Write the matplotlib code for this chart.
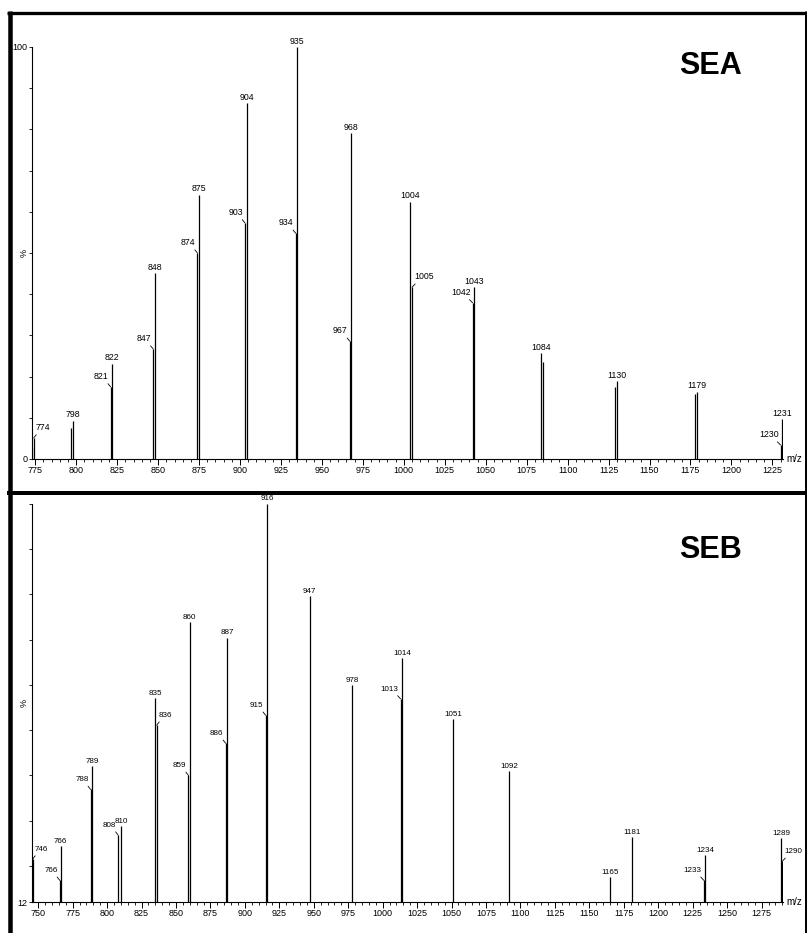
import matplotlib
matplotlib.use('Agg')
import matplotlib.pyplot as plt
from matplotlib.lines import Line2D
from matplotlib.ticker import MultipleLocator, FixedLocator

plt.rcParams['font.family'] = ['Liberation Sans', 'DejaVu Sans']

# SEA spectrum (m/z, relative intensity %)
sea_mz = [773, 774, 797, 798, 821, 822, 847, 848, 874, 875, 903, 904, 934, 935,
          967, 968, 1004, 1005, 1042, 1043, 1084, 1085, 1129, 1130, 1178, 1179,
          1230, 1231]
sea_int = [2.7, 5.1, 7.5, 9.3, 17.5, 23.1, 26.7, 45.1, 50.0, 64.1, 57.3, 86.4,
           54.8, 100, 28.6, 79.1, 62.4, 41.7, 37.9, 41.7, 25.7, 23.5, 17.5, 18.9,
           15.8, 16.3, 3.4, 9.7]
sea_labels = ['', '774', '', '798', '821', '822', '847', '848', '874', '875',
              '903', '904', '934', '935', '967', '968', '1004', '1005', '1042',
              '1043', '1084', '', '', '1130', '', '1179', '1230', '1231']
sea_sides = ['', 'r', '', 'c', 'l', 'c', 'l', 'c', 'l', 'c', 'l', 'c', 'l', 'c',
             'l', 'c', 'c', 'r', 'l', 'c', 'c', '', '', 'c', '', 'c', 'l', 'c']

# SEB spectrum
seb_mz = [745, 746, 765.6, 766.3, 788, 789, 808, 810, 835, 836, 859, 860, 886,
          887, 915, 916, 947, 978, 1013, 1014, 1051, 1092, 1165, 1181, 1233,
          1234, 1289, 1290]
seb_int = [15.7, 21.5, 16.8, 24.3, 36.9, 42.0, 26.8, 28.8, 57.1, 51.1, 40.0,
           73.9, 47.1, 70.4, 53.3, 100, 79.6, 59.9, 56.9, 65.9, 52.4, 40.9, 17.5,
           26.3, 16.8, 22.3, 26.1, 21.0]
seb_labels = ['', '746', '766', '766', '788', '789', '808', '810', '835', '836',
              '859', '860', '886', '887', '915', '916', '947', '978', '1013',
              '1014', '1051', '1092', '1165', '1181', '1233', '1234', '1289',
              '1290']
seb_sides = ['', 'r', 'l', 'c', 'l', 'c', 'l', 'c', 'c', 'r', 'l', 'c', 'l', 'c',
             'l', 'c', 'c', 'c', 'l', 'c', 'c', 'c', 'c', 'c', 'l', 'c', 'c', 'r']

W, H = 807, 933
fig = plt.figure(figsize=(W / 100, H / 100), dpi=100)


def label_peaks(ax, mz, inten, labels, sides, fs):
    for x, y, t, s in zip(mz, inten, labels, sides):
        if not t:
            continue
        if s == 'c':
            ax.annotate(t, (x, y), xytext=(0, 1.5), textcoords='offset pixels',
                        ha='center', va='bottom', fontsize=fs)
        else:
            sgn = -1 if s == 'l' else 1
            ax.annotate(t, (x, y), xytext=(sgn * 2, 6), textcoords='offset pixels',
                        ha='right' if s == 'l' else 'left', va='bottom', fontsize=fs,
                        arrowprops=dict(arrowstyle='-', lw=0.6, color='black',
                                        shrinkA=0, shrinkB=0,
                                        relpos=(0.8, 0) if s == 'l' else (0.2, 0)))


def style_axis(ax, xlim, ylim, ylabels):
    ax.set_xlim(*xlim)
    ax.set_ylim(*ylim)
    for s in ['top', 'right']:
        ax.spines[s].set_visible(False)
    for s in ['left', 'bottom']:
        ax.spines[s].set_linewidth(0.8)
    ax.xaxis.set_major_locator(MultipleLocator(25))
    ax.xaxis.set_minor_locator(MultipleLocator(5))
    ax.yaxis.set_major_locator(FixedLocator(ylabels))
    ax.yaxis.set_minor_locator(MultipleLocator(10))
    ax.tick_params(axis='x', which='major', length=4, width=0.7, pad=1, labelsize=6.5)
    ax.tick_params(axis='x', which='minor', length=2, width=0.6)
    ax.tick_params(axis='y', which='both', length=2.5, width=0.6, pad=1, labelsize=6.5)
    ax.text(1.004, 0, 'm/z', transform=ax.transAxes, ha='left', va='center', fontsize=7)
    ax.text(-0.0107, 0.5, '%', transform=ax.transAxes, ha='center', va='center',
            rotation=90, fontsize=6.5)


# top panel: SEA
ax1 = fig.add_axes([32 / W, (H - 459) / H, 751 / W, 412 / H])
ax1.vlines(sea_mz, 0, sea_int, color='black', lw=0.9)
style_axis(ax1, (773, 1231.5), (0, 100), [0, 100])
label_peaks(ax1, sea_mz, sea_int, sea_labels, sea_sides, 6.3)

# bottom panel: SEB
ax2 = fig.add_axes([32 / W, (H - 902) / H, 751 / W, 398 / H])
ax2.vlines(seb_mz, 12, seb_int, color='black', lw=0.9)
style_axis(ax2, (745.5, 1290.5), (12, 100), [12])
ax2.yaxis.set_minor_locator(FixedLocator([20, 30, 40, 50, 60, 70, 80, 90, 100]))
label_peaks(ax2, seb_mz, seb_int, seb_labels, seb_sides, 5.8)

fig.text(710 / W, 1 - 66 / H, 'SEA', ha='center', va='center', fontsize=22,
         fontweight='bold')
fig.text(710 / W, 1 - 550 / H, 'SEB', ha='center', va='center', fontsize=22,
         fontweight='bold')


# thick panel frames
def frame_line(x0, y0, x1, y1, px):
    fig.add_artist(Line2D([x0 / W, x1 / W], [1 - y0 / H, 1 - y1 / H],
                          transform=fig.transFigure, color='black',
                          lw=px * 0.72, solid_capstyle='butt'))


frame_line(7, 12.7, 807, 12.7, 3.3)
frame_line(10, 11, 10, 933, 4.5)
frame_line(805.5, 11, 805.5, 933, 3)
frame_line(7, 493, 807, 493, 4)

fig.savefig('out.png', dpi=100)
